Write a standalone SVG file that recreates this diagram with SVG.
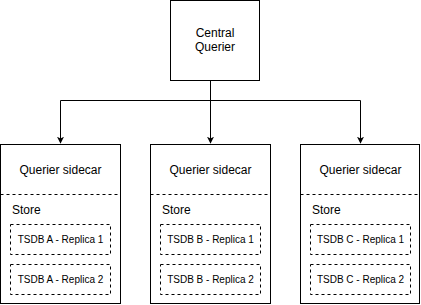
<svg xmlns="http://www.w3.org/2000/svg" width="421" height="305" viewBox="0 0 421 305">
<defs>
<marker id="arrow" viewBox="0 0 10 10" refX="9" refY="5" markerWidth="7" markerHeight="7" markerUnits="userSpaceOnUse" orient="auto">
<path d="M0,0 L10,5 L0,10 L2.5,5 Z" fill="#000"/>
</marker>
</defs>
<style>
.box{fill:#fff;stroke:#000;stroke-width:1}
.dash{fill:none;stroke:#000;stroke-width:1;stroke-dasharray:3 3}
.edge{fill:none;stroke:#000;stroke-width:1}
text{font-family:Helvetica,"Liberation Sans",Arial,sans-serif;fill:#000}
.t12{font-size:12px}
.t10{font-size:10px}
.mid{text-anchor:middle}
</style>
<rect width="421" height="305" fill="#fff"/>
<g id="connectors">
<path class="edge" d="M210.5,80.5 V100.5 M60.5,100.5 H360.5"/>
<path class="edge" d="M60.5,100.5 V143" marker-end="url(#arrow)"/>
<path class="edge" d="M210.5,100.5 V143" marker-end="url(#arrow)"/>
<path class="edge" d="M360.5,100.5 V143" marker-end="url(#arrow)"/>
</g>
<g id="central-querier">
<rect class="box" x="170.5" y="0.5" width="89" height="80"/>
<text class="t12 mid" x="215" y="37">Central</text>
<text class="t12 mid" x="215" y="51">Querier</text>
</g>
<g id="sidecar-a">
<rect class="box" x="0.5" y="144.5" width="120" height="159"/>
<line class="dash" x1="0.5" y1="194.5" x2="120.5" y2="194.5"/>
<text class="t12 mid" x="60.5" y="174">Querier sidecar</text>
<text class="t12" x="12" y="214">Store</text>
<rect class="dash" x="10.5" y="224.5" width="100" height="30"/>
<text class="t10 mid" x="60.5" y="243">TSDB A - Replica 1</text>
<rect class="dash" x="10.5" y="264.5" width="100" height="30"/>
<text class="t10 mid" x="60.5" y="283">TSDB A - Replica 2</text>
</g>
<g id="sidecar-b">
<rect class="box" x="150.5" y="144.5" width="120" height="159"/>
<line class="dash" x1="150.5" y1="194.5" x2="270.5" y2="194.5"/>
<text class="t12 mid" x="210.5" y="174">Querier sidecar</text>
<text class="t12" x="162" y="214">Store</text>
<rect class="dash" x="160.5" y="224.5" width="100" height="30"/>
<text class="t10 mid" x="210.5" y="243">TSDB B - Replica 1</text>
<rect class="dash" x="160.5" y="264.5" width="100" height="30"/>
<text class="t10 mid" x="210.5" y="283">TSDB B - Replica 2</text>
</g>
<g id="sidecar-c">
<rect class="box" x="300.5" y="144.5" width="119" height="159"/>
<line class="dash" x1="300.5" y1="194.5" x2="419.5" y2="194.5"/>
<text class="t12 mid" x="360.5" y="174">Querier sidecar</text>
<text class="t12" x="312" y="214">Store</text>
<rect class="dash" x="310.5" y="224.5" width="100" height="30"/>
<text class="t10 mid" x="360.5" y="243">TSDB C - Replica 1</text>
<rect class="dash" x="310.5" y="264.5" width="100" height="30"/>
<text class="t10 mid" x="360.5" y="283">TSDB C - Replica 2</text>
</g>
</svg>
